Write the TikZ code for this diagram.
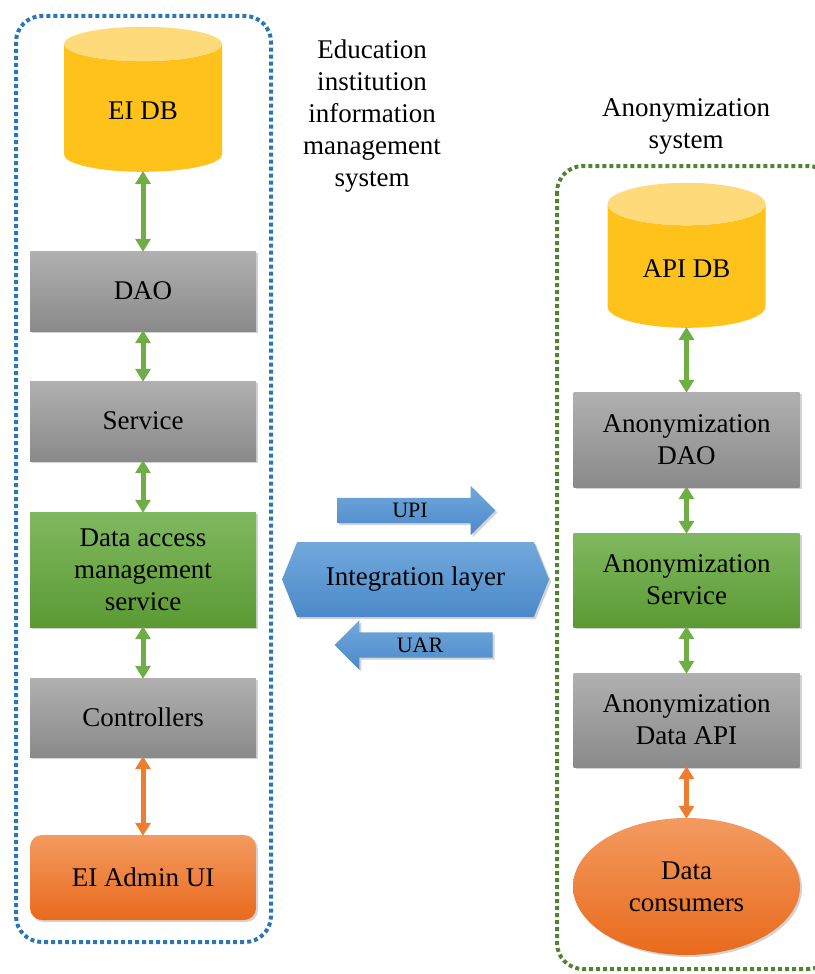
\documentclass[tikz,border=0pt]{standalone}
\usepackage{fontspec}
\setmainfont{Liberation Serif}
\usepackage{tikz}
\usetikzlibrary{shapes.geometric,shapes.symbols,shapes.arrows,arrows.meta,shadows}

\definecolor{dbend}{HTML}{FFDA7A}
\definecolor{dbbody}{HTML}{FFC21A}
\definecolor{grayhi}{HTML}{B0B0B0}
\definecolor{graylo}{HTML}{8A8A8A}
\definecolor{greenhi}{HTML}{80B860}
\definecolor{greenlo}{HTML}{5B9A33}
\definecolor{orangehi}{HTML}{F49A60}
\definecolor{orangelo}{HTML}{E86A1C}
\definecolor{bluehi}{HTML}{72A9DC}
\definecolor{bluelo}{HTML}{4A89C9}
\definecolor{linkgreen}{HTML}{70AD47}
\definecolor{linkorange}{HTML}{ED7D31}
\definecolor{frameblue}{HTML}{2E75B6}
\definecolor{framegreen}{HTML}{548235}

\begin{document}
\begin{tikzpicture}[x=1pt,y=-1pt,
	every node/.style={font=\fontsize{27}{32}\selectfont,align=center,text=black},
	softshadow/.style={drop shadow={opacity=0.35,shadow xshift=2pt,shadow yshift=-2pt}},
	dbnode/.style={cylinder,shape border rotate=90,aspect=0.45,minimum width=158pt,minimum height=145pt,
		cylinder uses custom fill,cylinder end fill=dbend,cylinder body fill=dbbody,anchor=south},
	graybox/.style={rectangle,minimum width=226pt,top color=grayhi,bottom color=graylo,softshadow},
	greenbox/.style={rectangle,minimum width=226pt,top color=greenhi,bottom color=greenlo,softshadow},
	orangebox/.style={rectangle,rounded corners=12pt,minimum width=226pt,top color=orangehi,bottom color=orangelo,softshadow},
	bluearrow/.style={single arrow,single arrow head extend=12pt,single arrow head indent=0pt,inner sep=0pt,
		text height=19.5pt,text depth=5.5pt,minimum height=158pt,top color=bluehi,bottom color=bluelo,softshadow,font=\fontsize{22}{26}\selectfont},
	greenlink/.style={{Triangle[width=15pt,length=13pt]}-{Triangle[width=15pt,length=13pt]},line width=5pt,linkgreen,shorten <=-1pt,shorten >=-1pt},
	orangelink/.style={{Triangle[width=15pt,length=13pt]}-{Triangle[width=15pt,length=13pt]},line width=5pt,linkorange,shorten <=-1pt,shorten >=-1pt},
	dotframe/.style={line width=4pt,dash pattern=on 4pt off 3pt,rounded corners=26pt}]

	\useasboundingbox (0,0) rectangle (814,974);

	\draw[dotframe,frameblue] (16,16) rectangle (271,942);
	\draw[dotframe,framegreen] (557,166) rectangle (834,969);

	\node (eititle) at (372,116) {Education\\institution\\information\\management\\system};
	\node (antitle) at (686,126) {Anonymization\\system};

	% left column
	\node[dbnode] (eidb) at (143,172) {EI DB};
	\node[graybox,minimum height=80pt] (dao) at (143,291) {DAO};
	\node[graybox,minimum height=80pt] (service) at (143,421) {Service};
	\node[greenbox,minimum height=115pt] (dams) at (143,569.5) {Data access\\management\\service};
	\node[graybox,minimum height=79pt] (controllers) at (143,717.5) {Controllers};
	\node[orangebox,minimum height=85pt] (adminui) at (143,877.5) {EI Admin UI};

	\draw[greenlink] (eidb.south) -- (dao.north);
	\draw[greenlink] (dao) -- (service);
	\draw[greenlink] (service) -- (dams);
	\draw[greenlink] (dams) -- (controllers);
	\draw[orangelink] (controllers) -- (adminui);

	% right column
	\node[dbnode] (apidb) at (686.5,328) {API DB};
	\node[graybox,minimum height=95pt] (adao) at (686.5,439.5) {Anonymization\\DAO};
	\node[greenbox,minimum height=94pt] (aservice) at (686.5,580) {Anonymization\\Service};
	\node[graybox,minimum height=94pt] (adataapi) at (686.5,720) {Anonymization\\Data API};
	\node[ellipse,minimum width=227pt,minimum height=137pt,top color=orangehi,bottom color=orangelo,softshadow] (consumers) at (686.5,886.5) {Data\\consumers};

	\draw[greenlink] (apidb.south) -- (adao.north);
	\draw[greenlink] (adao) -- (aservice);
	\draw[greenlink] (aservice) -- (adataapi);
	\draw[orangelink] (adataapi) -- (consumers);

	% integration layer
	\node[bluearrow] (upi) at (410,510.5) {UPI};
	\node[signal,signal to=west and east,signal pointer angle=136,minimum width=267pt,minimum height=75pt,
		top color=bluehi,bottom color=bluelo,softshadow] (integration) at (415.5,579.5) {Integration layer};
	\node[bluearrow,shape border rotate=180] (uar) at (420,645) {UAR};
\end{tikzpicture}
\end{document}
